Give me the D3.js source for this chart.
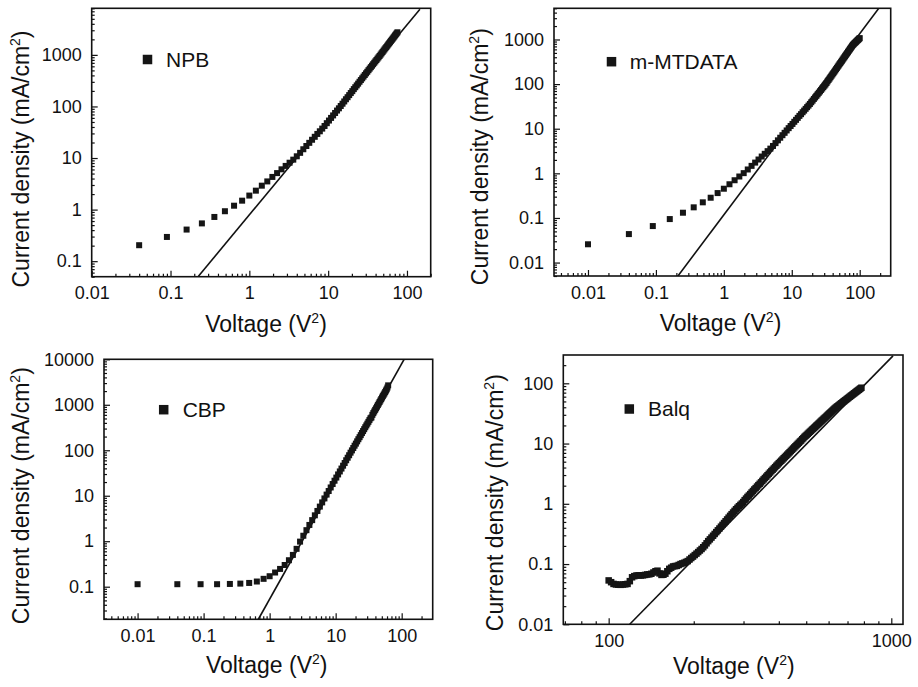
<!DOCTYPE html>
<html><head><meta charset="utf-8">
<script src="https://cdn.jsdelivr.net/npm/d3@7"></script>
<style>
body{margin:0;background:#fff}
svg{display:block}
text{font-family:"Liberation Sans",Arial,Helvetica,sans-serif;fill:#111}
</style>
</head><body>
<svg id="chart" width="918" height="687"></svg>
<script>
// ---------------- DATA ----------------
// NPB
const npbX=[0.04,0.09,0.16,0.25,0.36,0.49,0.64,0.81,1,1.21,1.44,1.69,1.96,2.25,2.56,2.89,3.24,3.61,4,4.41,4.84,5.29,5.76,6.25,6.76,7.29,7.84,8.41,9,9.61,10.24,10.89,11.56,12.25,12.96,13.69,14.44,15.21,16,16.81,17.64,18.49,19.36,20.25,21.16,22.09,23.04,24.01,25,26.01,27.04,28.09,29.16,30.25,31.36,32.49,33.64,34.81,36,37.21,38.44,39.69,40.96,42.25,43.56,44.89,46.24,47.61,49,50.41,51.84,53.29,54.76,56.25,57.76,59.29,60.84,62.41,64,65.61,67.24,68.89,70.56,72.25,73.96,75.69];
const npbY=[0.204,0.295,0.41,0.54,0.72,0.93,1.19,1.49,1.87,2.33,2.91,3.52,4.3,5.1,6.04,7.03,8.11,9.3,10.8,12.6,14.8,17.1,19.7,22.6,25.8,29.3,33,37.2,41.8,47.4,53.3,60,67,74.7,83.3,92,102,113,125,138,151,166,182,198,217,236,256,277,301,325,351,379,408,439,470,505,541,578,617,659,703,748,794,846,897,951,1010,1072,1135,1205,1276,1349,1420,1503,1589,1671,1758,1853,1950,2051,2158,2264,2382,2495,2618,2742];
const npbFitX=[0.226,146];
const npbFitY=[0.051,7700];

// m-MTDATA
const mtdX=[0.01,0.04,0.09,0.16,0.25,0.36,0.49,0.64,0.81,1,1.21,1.44,1.69,1.96,2.25,2.56,2.89,3.24,3.61,4,4.41,4.84,5.29,5.76,6.25,6.76,7.29,7.84,8.41,9,9.61,10.24,10.89,11.56,12.25,12.96,13.69,14.44,15.21,16,16.81,17.64,18.49,19.36,20.25,21.16,22.09,23.04,24.01,25,26.01,27.04,28.09,29.16,30.25,31.36,32.49,33.64,34.81,36,37.21,38.44,39.69,40.96,42.25,43.56,44.89,46.24,47.61,49,50.41,51.84,53.29,54.76,56.25,57.76,59.29,60.84,62.41,64,65.61,67.24,68.89,70.56,72.25,73.96,75.69,77.44,79.21,81,82.81,84.64,86.49,88.36,90.25,92.16,94.09,96.04,98.01,100];
const mtdY=[0.0257,0.0435,0.0658,0.0944,0.131,0.173,0.224,0.284,0.361,0.452,0.569,0.70,0.849,1.01,1.22,1.47,1.74,2.04,2.38,2.74,3.14,3.58,4.11,4.76,5.49,6.28,7.16,8.09,9.15,10.3,11.5,12.8,14.3,15.8,17.5,19.4,21.2,23.4,25.5,27.9,30.4,33.0,35.9,39.2,42.6,46.5,50.3,54.5,58.9,63.8,68.7,74.1,79.8,85.7,92.0,98.2,106,115,124,133,143,154,165,176,189,202,216,231,247,262,280,297,316,334,355,377,399,422,446,471,498,527,555,586,617,649,682,718,755,780,807,836,863,889,918,950,979,1007,1040,1072];
const mtdFitX=[0.211,191];
const mtdFitY=[0.005,5000];

// CBP
const cbpX=[0.01,0.04,0.09,0.16,0.25,0.36,0.49,0.64,0.81,1,1.21,1.44,1.69,1.96,2.25,2.56,2.89,3.24,3.61,4,4.41,4.84,5.29,5.76,6.25,6.76,7.29,7.84,8.41,9,9.61,10.24,10.89,11.56,12.25,12.96,13.69,14.44,15.21,16,16.81,17.64,18.49,19.36,20.25,21.16,22.09,23.04,24.01,25,26.01,27.04,28.09,29.16,30.25,31.36,32.49,33.64,34.81,36,37.21,38.44,39.69,40.96,42.25,43.56,44.89,46.24,47.61,49,50.41,51.84,53.29,54.76,56.25,57.76,59.29,60.84,62.41];
const cbpY=[0.1135,0.1135,0.1135,0.1135,0.115,0.117,0.121,0.130,0.149,0.170,0.205,0.246,0.30,0.382,0.50,0.68,0.98,1.32,1.75,2.28,2.91,3.71,4.63,5.77,7.14,8.73,10.6,12.7,15.2,18.1,21.4,25.1,29.4,34.2,39.6,45.8,52.4,60.3,68.5,77.8,88.5,99.3,112,126,140,157,175,194,215,239,264,291,321,352,385,421,461,505,525,600,656,713,774,837,910,984,1064,1148,1242,1334,1442,1549,1663,1774,1905,2051,2188,2393,2673];
const cbpFitX=[0.671,109];
const cbpFitY=[0.019,10000];

// Balq
const balqX=[100,102.01,104.04,106.09,108.16,110.25,112.36,114.49,116.64,118.81,121,123.21,125.44,127.69,129.96,132.25,134.56,136.89,139.24,141.61,144,146.41,148.84,151.29,153.76,156.25,158.76,161.29,163.84,166.41,169,171.61,174.24,176.89,179.56,182.25,184.96,187.69,190.44,193.21,196,198.81,201.64,204.49,207.36,210.25,213.16,216.09,219.04,222.01,225,228.01,231.04,234.09,237.16,240.25,243.36,246.49,249.64,252.81,256,259.21,262.44,265.69,268.96,272.25,275.56,278.89,282.24,285.61,289,292.41,295.84,299.29,302.76,306.25,309.76,313.29,316.84,320.41,324,327.61,331.24,334.89,338.56,342.25,345.96,349.69,353.44,357.21,361,364.81,368.64,372.49,376.36,380.25,384.16,388.09,392.04,396.01,400,404.01,408.04,412.09,416.16,420.25,424.36,428.49,432.64,436.81,441,445.21,449.44,453.69,457.96,462.25,466.56,470.89,475.24,479.61,484,488.41,492.84,497.29,501.76,506.25,510.76,515.29,519.84,524.41,529,533.61,538.24,542.89,547.56,552.25,556.96,561.69,566.44,571.21,576,580.81,585.64,590.49,595.36,600.25,605.16,610.09,615.04,620.01,625,630.01,635.04,640.09,645.16,650.25,655.36,660.49,665.64,670.81,676,681.21,686.44,691.69,696.96,702.25,707.56,712.89,718.24,723.61,729,734.41,739.84,745.29,750.76,756.25,761.76,767.29,772.84,778.41,784];
const balqY=[0.0535,0.050,0.0468,0.0458,0.0454,0.0452,0.0457,0.0462,0.0468,0.052,0.0603,0.063,0.0646,0.065,0.0646,0.065,0.066,0.0672,0.0676,0.069,0.0724,0.076,0.0776,0.070,0.066,0.0665,0.0692,0.076,0.0832,0.087,0.0912,0.0925,0.0933,0.0965,0.1,0.1025,0.105,0.1085,0.112,0.119,0.126,0.133,0.141,0.149,0.158,0.168,0.178,0.190,0.204,0.221,0.24,0.257,0.275,0.295,0.316,0.339,0.363,0.389,0.417,0.447,0.479,0.513,0.55,0.589,0.631,0.672,0.716,0.763,0.813,0.861,0.912,0.960,1.01,1.07,1.15,1.22,1.30,1.37,1.45,1.54,1.63,1.73,1.82,1.93,2.04,2.15,2.27,2.40,2.54,2.68,2.82,2.98,3.14,3.31,3.49,3.67,3.86,4.06,4.28,4.49,4.72,4.95,5.18,5.43,5.70,5.97,6.25,6.54,6.86,7.18,7.53,7.88,8.25,8.63,9.03,9.44,9.87,10.3,10.8,11.2,11.8,12.3,12.9,13.4,13.9,14.5,15.1,15.7,16.3,17.0,17.6,18.3,19.0,19.8,20.5,21.3,22.1,23.0,23.9,24.7,25.7,26.6,27.5,28.6,29.7,30.8,31.9,33.0,34.2,35.4,36.7,38.0,39.2,40.4,41.6,42.8,44.0,45.3,46.7,48.0,49.4,50.7,52.2,53.6,55.1,56.6,58.3,59.9,61.6,63.2,65.0,66.7,68.5,70.3,72.3,74.2,76.1,78.1,80.3,82.3,84.5];
const balqFitX=[118.7,1014];
const balqFitY=[0.01,285];

// tick values
const npbXTicks=[0.01,0.1,1,10,100];
const npbYTicks=[0.1,1,10,100,1000];
const mtdXTicks=[0.01,0.1,1,10,100];
const mtdYTicks=[0.01,0.1,1,10,100,1000];
const cbpXTicks=[0.01,0.1,1,10,100];
const cbpYTicks=[0.1,1,10,100,1000,10000];
const balqXTicks=[100,1000];
const balqYTicks=[0.01,0.1,1,10,100];

const seriesNames=["NPB","m-MTDATA","CBP","Balq"];

// ---------------- LAYOUT ----------------
const panels=[
 {name:seriesNames[0],xs:npbX,ys:npbY,fx:npbFitX,fy:npbFitY,xt:npbXTicks,yt:npbYTicks,
  xDom:[0.01,200],yDom:[0.05,8000],box:[91.7,430.7,8.3,276.7],
  leg:[147.5,59.5,166,66.5],yTitle:[28.5,159],xTitle:[266,332],ms:6},
 {name:seriesNames[1],xs:mtdX,ys:mtdY,fx:mtdFitX,fy:mtdFitY,xt:mtdXTicks,yt:mtdYTicks,
  xDom:[0.00316,286],yDom:[0.005,5000],box:[554,890.7,8.3,276],
  leg:[611.5,61.7,629.7,68.5],yTitle:[488,156.7],xTitle:[720.5,331],ms:6},
 {name:seriesNames[2],xs:cbpX,ys:cbpY,fx:cbpFitX,fy:cbpFitY,xt:cbpXTicks,yt:cbpYTicks,
  xDom:[0.0031,295],yDom:[0.0192,10000],box:[104,432.7,359.3,619.3],
  leg:[163.7,409.7,182.7,416.5],yTitle:[29,495.7],xTitle:[266.7,673],ms:6},
 {name:seriesNames[3],xs:balqX,ys:balqY,fx:balqFitX,fy:balqFitY,xt:balqXTicks,yt:balqYTicks,
  xDom:[69.1,1100],yDom:[0.01,295],box:[563.3,903,355,624.3],
  leg:[629.3,409,648,415.5],yTitle:[503,502.7],xTitle:[733.8,674],ms:6.5}
];

const svg=d3.select("#chart");
const ink="#111";

function isMajor(v){const l=Math.log10(v);return Math.abs(l-Math.round(l))<1e-6;}

panels.forEach((p,pi)=>{
  const [L,R,T,B]=p.box;
  const x=d3.scaleLog().domain(p.xDom).range([L,R]);
  const y=d3.scaleLog().domain(p.yDom).range([B,T]);
  const g=svg.append("g");
  const clipId="clip"+pi;
  g.append("clipPath").attr("id",clipId).append("rect")
    .attr("x",L).attr("y",T).attr("width",R-L).attr("height",B-T);

  const style=s=>{s.select(".domain").remove();
    s.selectAll("line").attr("stroke",ink).attr("stroke-width",1.2);
    s.selectAll("text").attr("font-size",18).attr("fill",ink)
      .attr("font-family",'"Liberation Sans",Arial,sans-serif');
    s.attr("font-family",null).attr("font-size",null);};

  const xMinor=x.ticks().filter(v=>!isMajor(v));
  const yMinor=y.ticks().filter(v=>!isMajor(v));

  g.append("g").attr("transform",`translate(0,${B})`)
    .call(d3.axisBottom(x).tickValues(xMinor).tickSize(-3).tickFormat(""))
    .call(style);
  g.append("g").attr("transform",`translate(0,${B})`)
    .call(d3.axisBottom(x).tickValues(p.xt).tickSize(-6).tickPadding(10).tickFormat(d=>String(d)))
    .call(style);
  g.append("g").attr("transform",`translate(${L},0)`)
    .call(d3.axisLeft(y).tickValues(yMinor).tickSize(-3).tickFormat(""))
    .call(style);
  g.append("g").attr("transform",`translate(${L},0)`)
    .call(d3.axisLeft(y).tickValues(p.yt).tickSize(-6).tickPadding(10).tickFormat(d=>String(d)))
    .call(style);

  // frame
  g.append("rect").attr("x",L).attr("y",T).attr("width",R-L).attr("height",B-T)
    .attr("fill","none").attr("stroke",ink).attr("stroke-width",1.6);

  // fit line
  const fit=p.fx.map((v,i)=>[v,p.fy[i]]);
  g.append("path").attr("clip-path",`url(#${clipId})`)
    .attr("d",d3.line().x(d=>x(d[0])).y(d=>y(d[1]))(fit))
    .attr("fill","none").attr("stroke",ink).attr("stroke-width",1.6);

  // data squares
  const n=Math.min(p.xs.length,p.ys.length);
  const pts=d3.range(n).map(i=>[p.xs[i],p.ys[i]]);
  g.append("g").attr("clip-path",`url(#${clipId})`).selectAll("rect").data(pts).join("rect")
    .attr("x",d=>x(d[0])-p.ms/2).attr("y",d=>y(d[1])-p.ms/2)
    .attr("width",p.ms).attr("height",p.ms).attr("fill","#151515");

  // legend
  const [mx,my,tx,ty]=p.leg;
  g.append("rect").attr("x",mx-4.75).attr("y",my-4.75).attr("width",9.5).attr("height",9.5).attr("fill","#151515");
  g.append("text").attr("x",tx).attr("y",ty).attr("font-size",21).text(p.name);

  // y title
  const yt=g.append("text").attr("transform",`translate(${p.yTitle[0]},${p.yTitle[1]}) rotate(-90)`)
    .attr("text-anchor","middle").attr("font-size",23);
  yt.append("tspan").text("Current density (mA/cm");
  yt.append("tspan").attr("font-size",14).attr("dy",-9).text("2");
  yt.append("tspan").attr("dy",9).text(")");

  // x title
  const xt=g.append("text").attr("x",p.xTitle[0]).attr("y",p.xTitle[1])
    .attr("text-anchor","middle").attr("font-size",23);
  xt.append("tspan").text("Voltage (V");
  xt.append("tspan").attr("font-size",14).attr("dy",-9).text("2");
  xt.append("tspan").attr("dy",9).text(")");
});
</script>
</body></html>
